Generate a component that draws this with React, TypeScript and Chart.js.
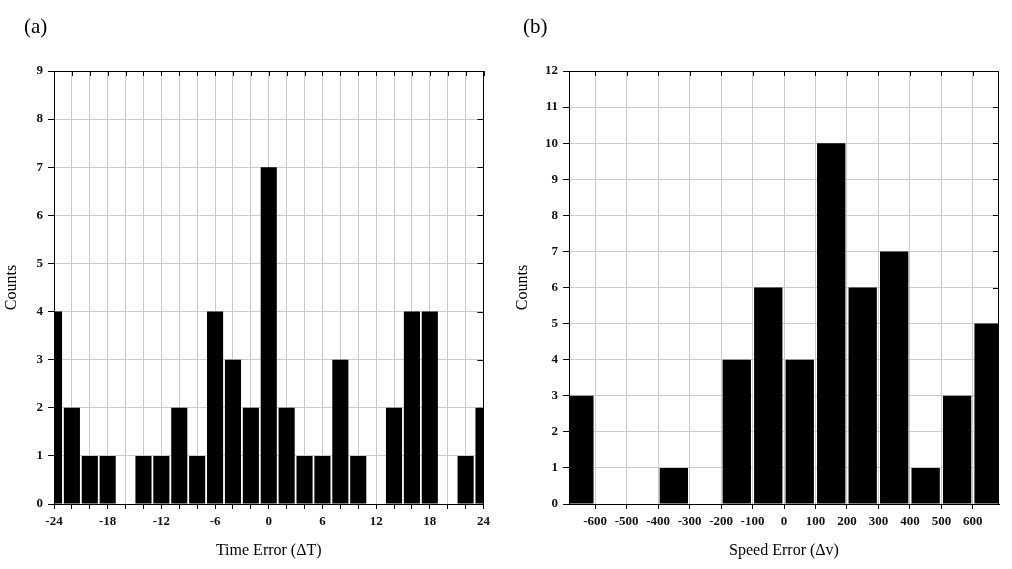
import React, { useEffect, useRef } from "react";
import { Chart, registerables } from "chart.js";

Chart.register(...registerables);

// ---- data ----
const timeBins = [-24, -22, -20, -18, -16, -14, -12, -10, -8, -6, -4, -2, 0, 2, 4, 6, 8, 10, 12, 14, 16, 18, 20, 22, 24];
const timeCounts = [4, 2, 1, 1, 0, 1, 1, 2, 1, 4, 3, 2, 7, 2, 1, 1, 3, 1, 0, 2, 4, 4, 0, 1, 2];
const speedBins = [-650, -550, -450, -350, -250, -150, -50, 50, 150, 250, 350, 450, 550, 650];
const speedCounts = [3, 0, 0, 1, 0, 4, 6, 4, 10, 6, 7, 1, 3, 5];

const SERIF = "'Liberation Serif', 'Times New Roman', serif";
const GRID = "#cbcbcb";

const framePlugin = {
  id: "frame",
  afterDatasetsDraw(chart: any) {
    const { ctx, chartArea: a, scales } = chart;
    ctx.save();
    ctx.strokeStyle = "#000";
    ctx.lineWidth = 1;
    ctx.beginPath();
    const top = Math.round(a.top) + 0.5;
    const right = Math.round(a.right) - 0.5;
    ctx.moveTo(a.left, top);
    ctx.lineTo(a.right, top);
    ctx.moveTo(right, a.top);
    ctx.lineTo(right, a.bottom);
    for (const t of scales.x.ticks) {
      const px = Math.round(scales.x.getPixelForValue(t.value)) + 0.5;
      ctx.moveTo(px, a.top);
      ctx.lineTo(px, a.top + 5);
    }
    for (const t of scales.y.ticks) {
      const py = Math.round(scales.y.getPixelForValue(t.value)) + 0.5;
      ctx.moveTo(a.right - 6, py);
      ctx.lineTo(a.right, py);
    }
    ctx.stroke();
    ctx.restore();
  },
};

type Cfg = {
  bins: number[];
  counts: number[];
  xMin: number;
  xMax: number;
  xStep: number;
  yMax: number;
  xTitle: string;
  labelEvery: number;
  yAxisWidth: number;
  padRight: number;
  yTitlePad: number;
};

function Hist({ cfg }: { cfg: Cfg }) {
  const ref = useRef<HTMLCanvasElement>(null);
  useEffect(() => {
    const chart = new Chart(ref.current!, {
      type: "bar",
      data: {
        datasets: [
          {
            data: cfg.bins.map((b, i) => ({ x: b, y: cfg.counts[i] })),
            backgroundColor: "#000",
            borderWidth: 0,
            categoryPercentage: 1,
            barPercentage: 0.9,
            clip: 0,
          } as any,
        ],
      },
      options: {
        animation: false,
        responsive: false,
        layout: { padding: { left: 0, right: cfg.padRight, top: 71, bottom: 0 } },
        plugins: { legend: { display: false }, tooltip: { enabled: false } },
        scales: {
          x: {
            type: "linear",
            min: cfg.xMin,
            max: cfg.xMax,
            offset: false,
            grid: { color: GRID, offset: false, tickLength: 5, tickColor: "#000" },
            border: { display: true, color: "#000" },
            ticks: {
              stepSize: cfg.xStep,
              includeBounds: false,
              autoSkip: false,
              maxRotation: 0,
              padding: 5,
              color: "#111",
              font: { family: SERIF, size: 13, weight: "bold" },
              callback: (v: any) => (Math.round(v) % cfg.labelEvery === 0 ? String(v) : ""),
            },
            title: {
              display: true,
              text: cfg.xTitle,
              color: "#000",
              font: { family: SERIF, size: 16 },
              padding: { top: 0, bottom: 9 },
            },
            afterFit: (s: any) => {
              s.height = 65;
            },
          },
          y: {
            min: 0,
            max: cfg.yMax,
            grid: { color: GRID, tickLength: 6, tickColor: "#000" },
            border: { display: true, color: "#000" },
            ticks: {
              stepSize: 1,
              padding: 5,
              color: "#111",
              font: { family: SERIF, size: 13, weight: "bold" },
            },
            title: {
              display: true,
              text: "Counts",
              color: "#000",
              font: { family: SERIF, size: 16 },
              padding: { top: cfg.yTitlePad, bottom: 0 },
            },
            afterFit: (s: any) => {
              s.width = cfg.yAxisWidth;
            },
          },
        } as any,
      },
      plugins: [framePlugin],
    });
    return () => chart.destroy();
  }, [cfg]);
  return <canvas ref={ref} width={506} height={569} style={{ width: 506, height: 569, display: "block" }} />;
}

const leftCfg: Cfg = {
  bins: timeBins,
  counts: timeCounts,
  xMin: -24,
  xMax: 24,
  xStep: 2,
  yMax: 9,
  xTitle: "Time Error (ΔT)",
  labelEvery: 6,
  yAxisWidth: 54,
  padRight: 22.5,
  yTitlePad: 2,
};

const rightCfg: Cfg = {
  bins: speedBins,
  counts: speedCounts,
  xMin: -683,
  xMax: 683,
  xStep: 100,
  yMax: 12,
  xTitle: "Speed Error (Δv)",
  labelEvery: 100,
  yAxisWidth: 63,
  padRight: 13,
  yTitlePad: 7,
};

export default function App() {
  const label: React.CSSProperties = {
    position: "absolute",
    fontFamily: SERIF,
    fontSize: 21,
    color: "#000",
    lineHeight: "24px",
  };
  return (
    <div style={{ position: "absolute", left: 0, top: 0, width: 1012, height: 569, background: "#fff", overflow: "hidden" }}>
      <div style={{ position: "absolute", left: 0, top: 0 }}>
        <Hist cfg={leftCfg} />
      </div>
      <div style={{ position: "absolute", left: 506, top: 0 }}>
        <Hist cfg={rightCfg} />
      </div>
      <div style={{ ...label, left: 24, top: 14 }}>(a)</div>
      <div style={{ ...label, left: 523, top: 14 }}>(b)</div>
    </div>
  );
}
